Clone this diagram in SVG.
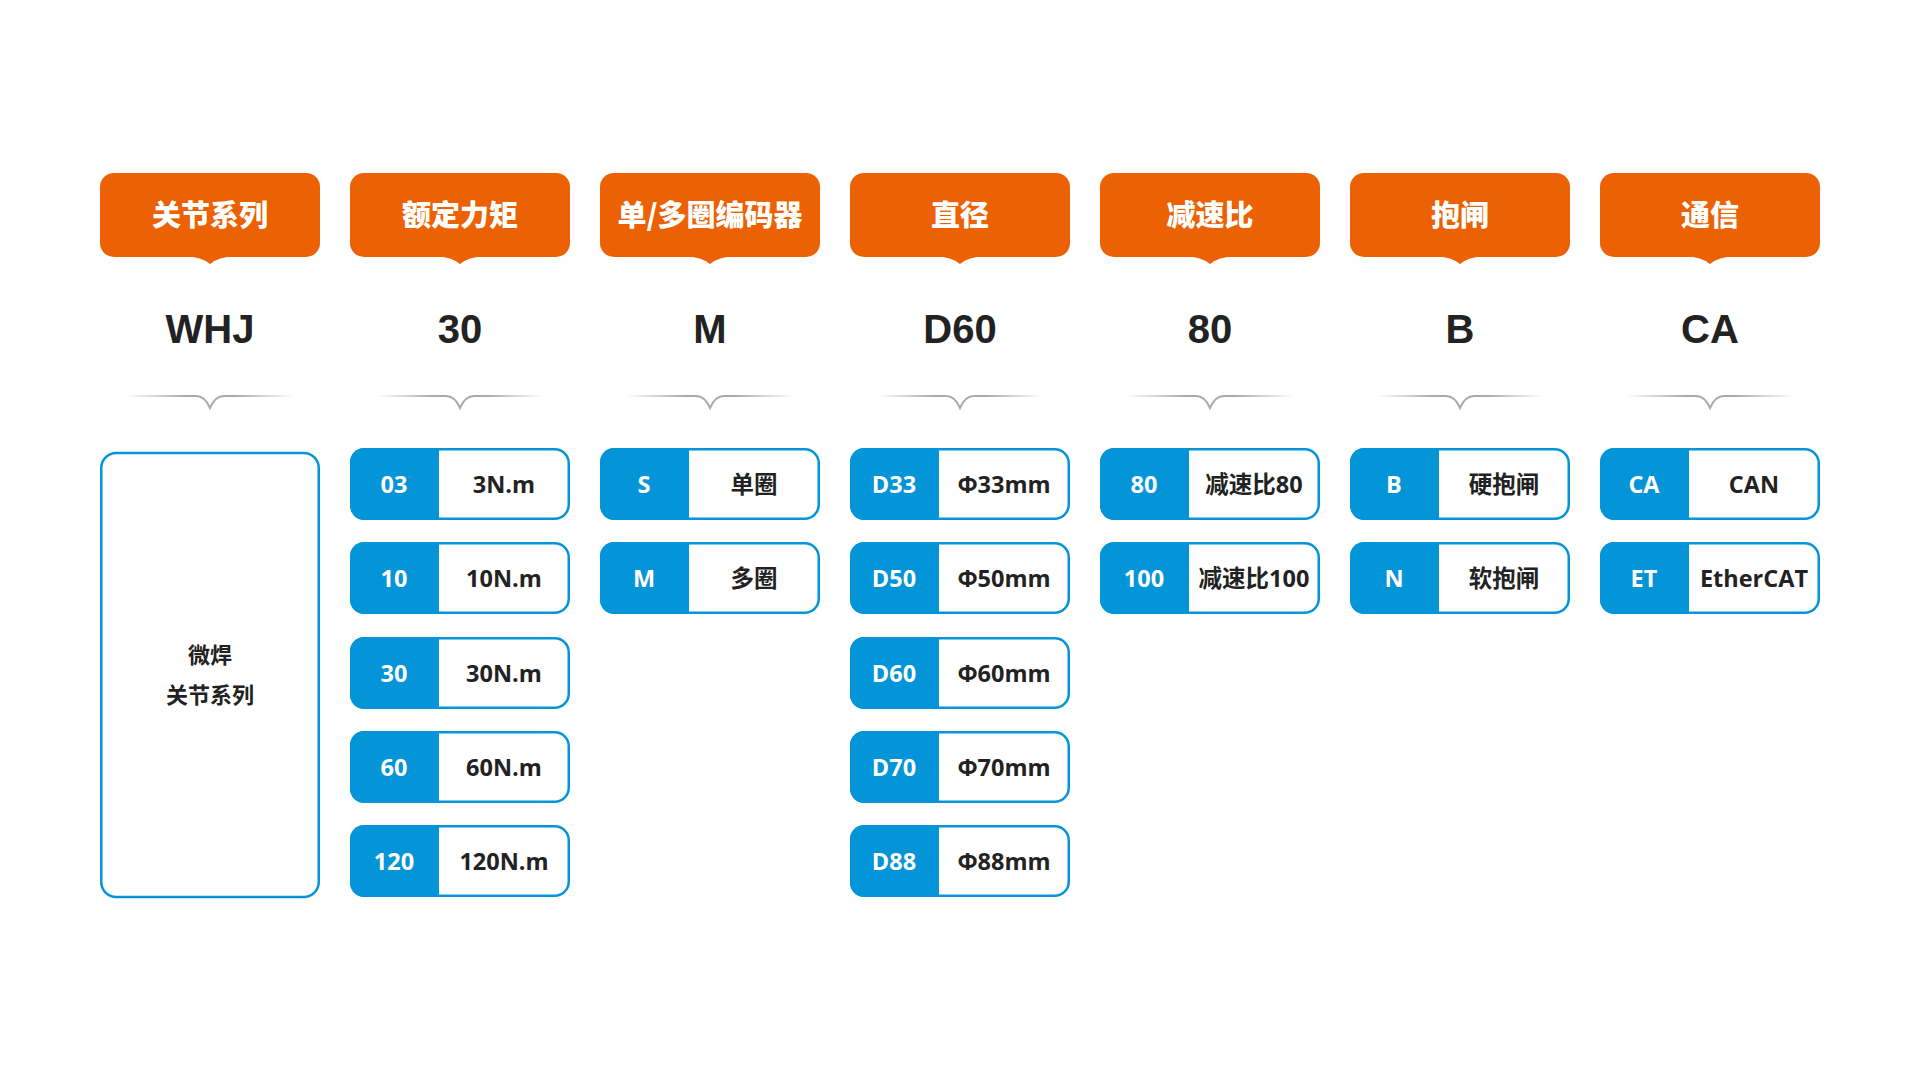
<svg xmlns="http://www.w3.org/2000/svg" width="1920" height="1080" viewBox="0 0 1920 1080">
<style>
.hd{fill:#EB6103}
.ht{font-family:"Noto Sans CJK SC",sans-serif;font-weight:900;font-size:29px;fill:#fff;text-anchor:middle}
.val{font-family:"Liberation Sans",Arial,sans-serif;font-weight:700;font-size:40px;fill:#222;text-anchor:middle}
.br{fill:none;stroke:url(#bg);stroke-width:2}
.ol{fill:none;stroke:#0494D8;stroke-width:2.5}
.bl{fill:#0494D8}
.wt{font-family:"Open Sans","Noto Sans CJK SC",sans-serif;font-weight:700;font-size:23.5px;fill:#fff;text-anchor:middle}
.dt{font-family:"Open Sans","Noto Sans CJK SC",sans-serif;font-weight:700;font-size:23.5px;fill:#222;text-anchor:middle}
.bt{font-family:"Noto Sans CJK SC",sans-serif;font-weight:700;font-size:22px;fill:#222;text-anchor:middle}
</style>
<defs>
<linearGradient id="bg" x1="0" y1="0" x2="1" y2="0">
<stop offset="0" stop-color="#aaa" stop-opacity="0"/>
<stop offset="0.35" stop-color="#aaa"/>
<stop offset="0.65" stop-color="#aaa"/>
<stop offset="1" stop-color="#aaa" stop-opacity="0"/>
</linearGradient>
<g id="hdshape">
<rect x="0" y="173" width="220" height="84" rx="14" class="hd"/>
<path d="M85,256 Q102,257 110,264 Q118,257 135,256 Z" class="hd"/>
</g>
<path id="lft" d="M14,0 H89 V72 H14 A14 14 0 0 1 0,58 V14 A14 14 0 0 1 14,0 Z"/>
</defs>
<rect width="1920" height="1080" fill="#fff"/>

<g id="connectors">
<path class="br" d="M127,396 H196 Q205,396 210,408 Q215,396 224,396 H293"/>
<path class="br" d="M377,396 H446 Q455,396 460,408 Q465,396 474,396 H543"/>
<path class="br" d="M627,396 H696 Q705,396 710,408 Q715,396 724,396 H793"/>
<path class="br" d="M877,396 H946 Q955,396 960,408 Q965,396 974,396 H1043"/>
<path class="br" d="M1127,396 H1196 Q1205,396 1210,408 Q1215,396 1224,396 H1293"/>
<path class="br" d="M1377,396 H1446 Q1455,396 1460,408 Q1465,396 1474,396 H1543"/>
<path class="br" d="M1627,396 H1696 Q1705,396 1710,408 Q1715,396 1724,396 H1793"/>
</g>

<g id="col-series">
<use href="#hdshape" x="100"/>
<text class="ht" x="210" y="226">关节系列</text>
<text class="val" x="210" y="343">WHJ</text>
<rect x="101.25" y="453" width="217.5" height="444" rx="15" class="ol" fill="#fff"/>
<text class="bt" x="210" y="663">微焊</text>
<text class="bt" x="210" y="703">关节系列</text>
</g>

<g id="col-torque">
<use href="#hdshape" x="350"/>
<text class="ht" x="460" y="226">额定力矩</text>
<text class="val" x="460" y="343">30</text>
<g id="t03"><use href="#lft" x="350" y="448" class="bl"/><rect x="351.25" y="449.25" width="217.5" height="69.5" rx="14" class="ol"/><text class="wt" x="394" y="493">03</text><text class="dt" x="504" y="493">3N.m</text></g>
<g id="t10"><use href="#lft" x="350" y="542" class="bl"/><rect x="351.25" y="543.25" width="217.5" height="69.5" rx="14" class="ol"/><text class="wt" x="394" y="587">10</text><text class="dt" x="504" y="587">10N.m</text></g>
<g id="t30"><use href="#lft" x="350" y="637" class="bl"/><rect x="351.25" y="638.25" width="217.5" height="69.5" rx="14" class="ol"/><text class="wt" x="394" y="682">30</text><text class="dt" x="504" y="682">30N.m</text></g>
<g id="t60"><use href="#lft" x="350" y="731" class="bl"/><rect x="351.25" y="732.25" width="217.5" height="69.5" rx="14" class="ol"/><text class="wt" x="394" y="776">60</text><text class="dt" x="504" y="776">60N.m</text></g>
<g id="t120"><use href="#lft" x="350" y="825" class="bl"/><rect x="351.25" y="826.25" width="217.5" height="69.5" rx="14" class="ol"/><text class="wt" x="394" y="870">120</text><text class="dt" x="504" y="870">120N.m</text></g>
</g>

<g id="col-encoder">
<use href="#hdshape" x="600"/>
<text class="ht" x="710" y="226">单/多圈编码器</text>
<text class="val" x="710" y="343">M</text>
<g id="eS"><use href="#lft" x="600" y="448" class="bl"/><rect x="601.25" y="449.25" width="217.5" height="69.5" rx="14" class="ol"/><text class="wt" x="644" y="493">S</text><text class="dt" x="754" y="493">单圈</text></g>
<g id="eM"><use href="#lft" x="600" y="542" class="bl"/><rect x="601.25" y="543.25" width="217.5" height="69.5" rx="14" class="ol"/><text class="wt" x="644" y="587">M</text><text class="dt" x="754" y="587">多圈</text></g>
</g>

<g id="col-diameter">
<use href="#hdshape" x="850"/>
<text class="ht" x="960" y="226">直径</text>
<text class="val" x="960" y="343">D60</text>
<g id="d33"><use href="#lft" x="850" y="448" class="bl"/><rect x="851.25" y="449.25" width="217.5" height="69.5" rx="14" class="ol"/><text class="wt" x="894" y="493">D33</text><text class="dt" x="1004" y="493">Φ33mm</text></g>
<g id="d50"><use href="#lft" x="850" y="542" class="bl"/><rect x="851.25" y="543.25" width="217.5" height="69.5" rx="14" class="ol"/><text class="wt" x="894" y="587">D50</text><text class="dt" x="1004" y="587">Φ50mm</text></g>
<g id="d60"><use href="#lft" x="850" y="637" class="bl"/><rect x="851.25" y="638.25" width="217.5" height="69.5" rx="14" class="ol"/><text class="wt" x="894" y="682">D60</text><text class="dt" x="1004" y="682">Φ60mm</text></g>
<g id="d70"><use href="#lft" x="850" y="731" class="bl"/><rect x="851.25" y="732.25" width="217.5" height="69.5" rx="14" class="ol"/><text class="wt" x="894" y="776">D70</text><text class="dt" x="1004" y="776">Φ70mm</text></g>
<g id="d88"><use href="#lft" x="850" y="825" class="bl"/><rect x="851.25" y="826.25" width="217.5" height="69.5" rx="14" class="ol"/><text class="wt" x="894" y="870">D88</text><text class="dt" x="1004" y="870">Φ88mm</text></g>
</g>

<g id="col-ratio">
<use href="#hdshape" x="1100"/>
<text class="ht" x="1210" y="226">减速比</text>
<text class="val" x="1210" y="343">80</text>
<g id="r80"><use href="#lft" x="1100" y="448" class="bl"/><rect x="1101.25" y="449.25" width="217.5" height="69.5" rx="14" class="ol"/><text class="wt" x="1144" y="493">80</text><text class="dt" x="1254" y="493">减速比80</text></g>
<g id="r100"><use href="#lft" x="1100" y="542" class="bl"/><rect x="1101.25" y="543.25" width="217.5" height="69.5" rx="14" class="ol"/><text class="wt" x="1144" y="587">100</text><text class="dt" x="1254" y="587">减速比100</text></g>
</g>

<g id="col-brake">
<use href="#hdshape" x="1350"/>
<text class="ht" x="1460" y="226">抱闸</text>
<text class="val" x="1460" y="343">B</text>
<g id="bB"><use href="#lft" x="1350" y="448" class="bl"/><rect x="1351.25" y="449.25" width="217.5" height="69.5" rx="14" class="ol"/><text class="wt" x="1394" y="493">B</text><text class="dt" x="1504" y="493">硬抱闸</text></g>
<g id="bN"><use href="#lft" x="1350" y="542" class="bl"/><rect x="1351.25" y="543.25" width="217.5" height="69.5" rx="14" class="ol"/><text class="wt" x="1394" y="587">N</text><text class="dt" x="1504" y="587">软抱闸</text></g>
</g>

<g id="col-comm">
<use href="#hdshape" x="1600"/>
<text class="ht" x="1710" y="226">通信</text>
<text class="val" x="1710" y="343">CA</text>
<g id="cCA"><use href="#lft" x="1600" y="448" class="bl"/><rect x="1601.25" y="449.25" width="217.5" height="69.5" rx="14" class="ol"/><text class="wt" x="1644" y="493">CA</text><text class="dt" x="1754" y="493">CAN</text></g>
<g id="cET"><use href="#lft" x="1600" y="542" class="bl"/><rect x="1601.25" y="543.25" width="217.5" height="69.5" rx="14" class="ol"/><text class="wt" x="1644" y="587">ET</text><text class="dt" x="1754" y="587">EtherCAT</text></g>
</g>
</svg>
